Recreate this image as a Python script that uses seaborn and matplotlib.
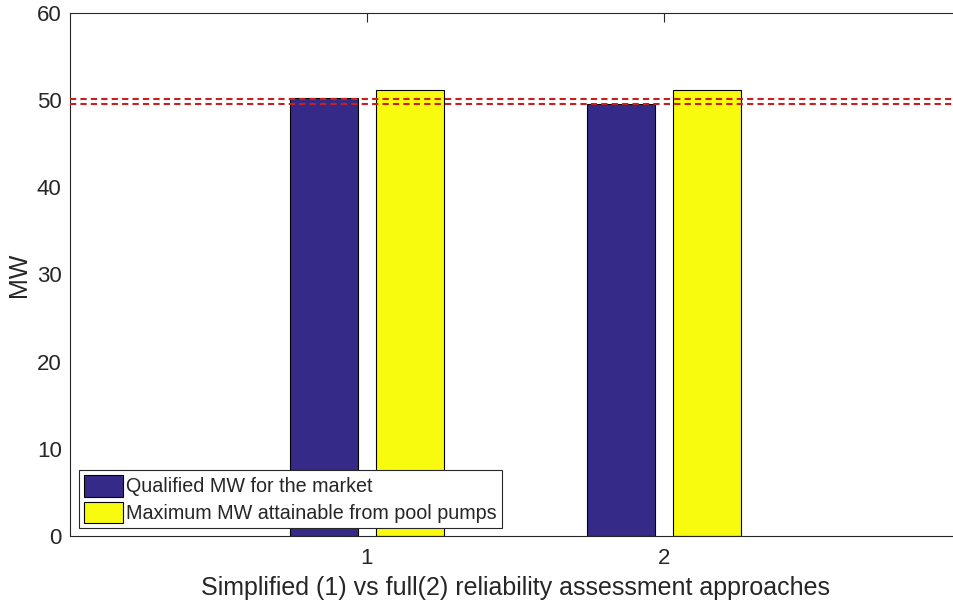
import matplotlib
matplotlib.use("Agg")
import matplotlib.pyplot as plt
import seaborn as sns
import pandas as pd

approach = [1, 2]
qualified_mw = [50.2, 49.6]
max_mw = [51.15, 51.15]
ref_lines = [50.17, 49.59]
series_names = ["Qualified MW for the market", "Maximum MW attainable from pool pumps"]
y_ticks = [0, 10, 20, 30, 40, 50, 60]

df = pd.DataFrame({
    "approach": approach * 2,
    "MW": qualified_mw + max_mw,
    "series": [series_names[0]] * 2 + [series_names[1]] * 2,
})

sns.set_theme(style="white")
plt.rcParams["font.family"] = ["Liberation Sans", "DejaVu Sans"]

fig = plt.figure(figsize=(9.54, 6.07), dpi=100)
ax = fig.add_axes([70 / 954, (607 - 536) / 607, 891 / 954, (536 - 13) / 607])

sns.barplot(data=df, x="approach", y="MW", hue="series", native_scale=True,
            palette=["#352a87", "#f9fb0e"], saturation=1, width=0.576, gap=0.205,
            edgecolor="black", linewidth=0.8, ax=ax, zorder=2)

for v in ref_lines:
    ax.axhline(v, color="#c8201e", linestyle=(0, (3, 2)), linewidth=1.5, zorder=3)

ax.set_xlim(0, 3)
ax.set_ylim(0, 60)
ax.set_xticks([1, 2])
ax.set_xticklabels(["1", "2"])
ax.set_yticks(y_ticks)
ax.tick_params(direction="in", length=6.5, width=0.8, colors="#262626", labelsize=16,
               top=True, right=False)
ax.tick_params(axis="x", pad=9)
ax.tick_params(axis="y", pad=6)
for s in ["left", "bottom", "top"]:
    ax.spines[s].set_color("#262626")
    ax.spines[s].set_linewidth(0.8)
ax.spines["right"].set_visible(False)
ax.set_xlabel("Simplified (1) vs full(2) reliability assessment approaches", fontsize=18,
              color="#262626", labelpad=5)
ax.set_ylabel("MW", fontsize=18, color="#262626")

leg = ax.legend(loc="lower left", bbox_to_anchor=(9 / 891, 8 / 523), fontsize=14.2,
                frameon=True, fancybox=False, edgecolor="#262626", framealpha=1,
                handlelength=2.0, handleheight=1.3, handletextpad=0.15,
                borderpad=0.25, labelspacing=0.25, borderaxespad=0)
leg.get_frame().set_linewidth(0.8)

fig.savefig("out.png", dpi=100)
